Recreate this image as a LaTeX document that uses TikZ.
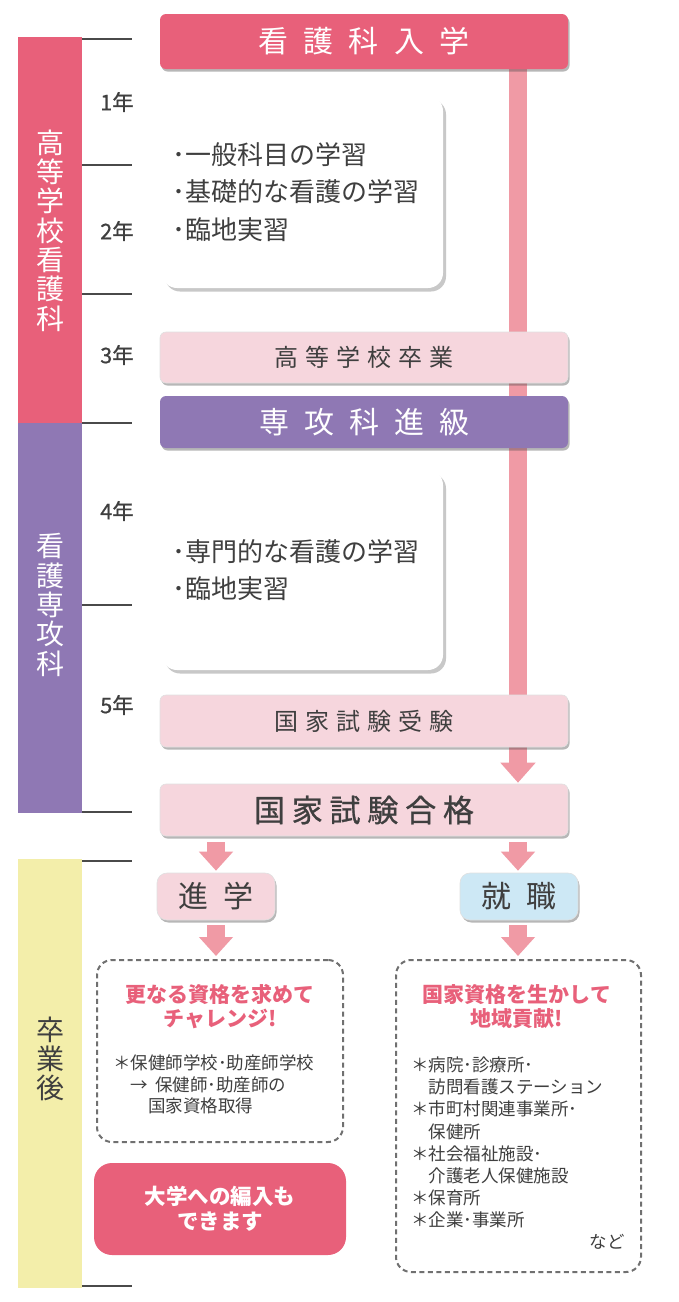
\documentclass[tikz,border=0pt]{standalone}
\usepackage{fontspec}
\setmainfont{Noto Sans CJK JP}
\newfontfamily\jpsemi[FakeBold=0.8]{Noto Sans CJK JP}
\usetikzlibrary{shadows,arrows.meta,backgrounds}
\definecolor{pinkred}{HTML}{E8607A}
\definecolor{railpink}{HTML}{F09AA5}
\definecolor{lightpink}{HTML}{F6D6DD}
\definecolor{purp}{HTML}{8F78B4}
\definecolor{yel}{HTML}{F3EEAA}
\definecolor{lblue}{HTML}{CDE8F5}
\definecolor{txt}{HTML}{3F3F3F}
\definecolor{tickc}{HTML}{4A4A4A}
\definecolor{dashc}{HTML}{707070}
\newcommand{\fsz}[2]{\fontsize{#1pt}{#2pt}\selectfont}
\begin{document}
\begin{tikzpicture}[x=1pt,y=-1pt,
  bandbox/.style={rounded corners=6pt, minimum width=408pt, inner sep=0pt,
    drop shadow={shadow xshift=1.5pt,shadow yshift=-2.5pt,opacity=0.4,fill=black!70}},
  darkband/.style={bandbox, text=white, font=\fsz{30}{36}},
  lightband/.style={bandbox, fill=lightpink, draw=black!12, line width=0.6pt, text=txt, font=\fsz{24}{30}},
  whitebox/.style={rounded corners=15pt, fill=white, minimum width=281pt, inner sep=0pt,
    drop shadow={shadow xshift=3pt,shadow yshift=-3.5pt,opacity=0.3,fill=black!70},
    text=txt, font=\fsz{26}{37.5}, align=left, text width=261pt},
  stepbox/.style={rounded corners=10pt, minimum width=118pt, minimum height=47pt, inner sep=0pt,
    draw=black!12, line width=0.6pt, text=txt, font=\fsz{30}{34},
    drop shadow={shadow xshift=1.5pt,shadow yshift=-2.5pt,opacity=0.4,fill=black!70}},
  dashbox/.style={draw=dashc, line width=2pt, dash pattern=on 5pt off 3.5pt, rounded corners=15pt, inner sep=0pt},
  railarrow/.style={draw=railpink, line width=18pt, -{Triangle[width=34pt,length=20pt]}},
  smallarrow/.style={draw=railpink, line width=18pt, -{Triangle[width=33pt,length=19pt]}},
  tickline/.style={draw=tickc, line width=2.5pt},
  yearlbl/.style={text=txt, font=\jpsemi\fsz{21.5}{23}, inner sep=0pt},
  vlabel/.style={font=\fsz{28}{29.3}, align=center, inner sep=0pt},
  ttl/.style={text=pinkred, font=\bfseries\fsz{21}{24}, align=center, inner sep=0pt},
  body/.style={text=txt, font=\fsz{17.5}{21.5}, align=left, inner sep=0pt}
]
\begin{scope}[on background layer]
\fill[white] (0,0) rectangle (678,1302);
\end{scope}
\useasboundingbox (0,0) rectangle (678,1302);

% left bands
\fill[pinkred] (18,37) rectangle (82,423);
\fill[purp] (18,423) rectangle (82,813);
\fill[yel] (18,859) rectangle (82,1288);
\foreach \yy in {39,165,294,423,605,812,861,1286}
  \draw[tickline] (82,\yy) -- (132,\yy);

\node[vlabel, text=white] (v1) at (50,230.5) {高\\等\\学\\校\\看\\護\\科};
\node[vlabel, text=white] (v2) at (50,605) {看\\護\\専\\攻\\科};
\node[vlabel, text=txt] (v3) at (50,1059) {卒\\業\\後};

\node[yearlbl] (y1) at (117,102) {1年};
\node[yearlbl] (y2) at (117,231) {2年};
\node[yearlbl] (y3) at (117,355) {3年};
\node[yearlbl] (y4) at (117,511) {4年};
\node[yearlbl] (y5) at (117,705) {5年};

% main boxes
\node[darkband, fill=pinkred, minimum height=55pt] (enter) at (364,41.5)
  {看\hspace{15.5pt}護\hspace{15.5pt}科\hspace{15.5pt}入\hspace{15.5pt}学};
\node[whitebox, minimum height=192pt] (study1) at (302.5,192)
  {･一般科目の学習\\･基礎的な看護の学習\\･臨地実習};
\node[lightband, minimum height=51pt] (grad) at (364,357.5)
  {高\hspace{7pt}等\hspace{7pt}学\hspace{7pt}校\hspace{7pt}卒\hspace{7pt}業};
\node[darkband, fill=purp, minimum height=52pt] (adv) at (364,422)
  {専\hspace{15pt}攻\hspace{15pt}科\hspace{15pt}進\hspace{15pt}級};
\node[whitebox, minimum height=200pt] (study2) at (302.5,570)
  {･専門的な看護の学習\\･臨地実習};
\node[lightband, minimum height=52pt] (exam) at (364,721)
  {国\hspace{7pt}家\hspace{7pt}試\hspace{7pt}験\hspace{7pt}受\hspace{7pt}験};
\node[lightband, minimum height=52pt, font=\jpsemi\fsz{31}{36}] (pass) at (364,810)
  {国\hspace{6.8pt}家\hspace{6.8pt}試\hspace{6.8pt}験\hspace{6.8pt}合\hspace{6.8pt}格};

\coordinate (rx) at (518,0);
\coordinate (lx) at (216,0);

\begin{scope}[on background layer]
\draw[railarrow, shorten >=1pt] (enter.south -| rx) -- (pass.north -| rx);
\end{scope}

\node[stepbox, fill=lightpink] (shingaku) at (216,896.5) {進\hspace{16pt}学};
\node[stepbox, fill=lblue] (shushoku) at (519,896.5) {就\hspace{16pt}職};

\node[dashbox, minimum width=246pt, minimum height=182pt] (further) at (220,1051) {};
\node[dashbox, minimum width=245pt, minimum height=312pt] (work) at (518.5,1116) {};

\draw[smallarrow, shorten <=6pt, shorten >=2pt] (pass.south -| lx) -- (shingaku.north);
\draw[smallarrow, shorten <=6pt, shorten >=2pt] (pass.south -| rx) -- (shushoku.north -| rx);
\draw[smallarrow, shorten <=5pt, shorten >=3pt] (shingaku.south) -- (further.north -| lx);
\draw[smallarrow, shorten <=5pt, shorten >=3pt] (shushoku.south -| rx) -- (work.north -| rx);

\node[ttl] (t1) at (220,1007) {更なる資格を求めて\\チャレンジ!};
\node[body, anchor=west] (b1) at (113,1084.5)
  {＊保健師学校･助産師学校\\\hspace*{17.5pt}→\hspace{7pt}保健師･助産師の\\\hspace*{35pt}国家資格取得};

\node[ttl] (t2) at (517,1007) {国家資格を生かして\\地域貢献!};
\node[body, anchor=west, font=\fsz{17.5}{22.1}] (b2) at (411,1142.5)
  {＊病院･診療所･\\\hspace*{17.5pt}訪問看護ステーション\\＊市町村関連事業所･\\\hspace*{17.5pt}保健所\\＊社会福祉施設･\\\hspace*{17.5pt}介護老人保健施設\\＊保育所\\＊企業･事業所};
\node[body, anchor=east] (etc) at (625,1242) {など};

\node[rounded corners=18pt, fill=pinkred, minimum width=252pt, minimum height=92pt,
  text=white, font=\bfseries\fsz{21.5}{25}, align=center] (univ) at (220,1209)
  {大学への編入も\\できます};
\end{tikzpicture}
\end{document}
